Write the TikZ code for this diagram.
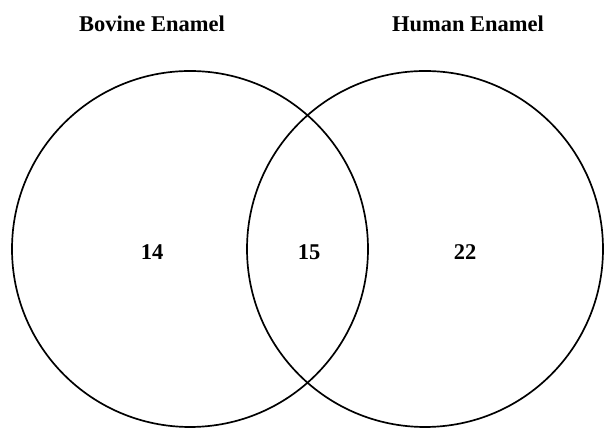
\documentclass[tikz,border=0pt]{standalone}
\usepackage{fontspec}
\setmainfont{Liberation Serif}
\usepackage{tikz}
\usetikzlibrary{positioning}

\begin{document}
\begin{tikzpicture}[
  font=\fontsize{16}{19}\selectfont\bfseries,
  venn/.style={draw=black,circle,line width=1.2pt,minimum size=8.9cm,inner sep=0pt},
  count/.style={inner sep=1pt}
]
\useasboundingbox (0,0) rectangle (15.15,10.75);
\node[venn] (bovine) at (4.75,4.525) {};
\node[venn] (human) at (10.625,4.525) {};
\node (bovlabel) at (3.8,10.15) {Bovine Enamel};
\node (humlabel) at (11.7,10.15) {Human Enamel};
\node[count] (onlybov) at (3.8,4.45) {14};
\node[count] (both) at (7.725,4.45) {15};
\node[count] (onlyhum) at (11.625,4.45) {22};
\end{tikzpicture}
\end{document}
